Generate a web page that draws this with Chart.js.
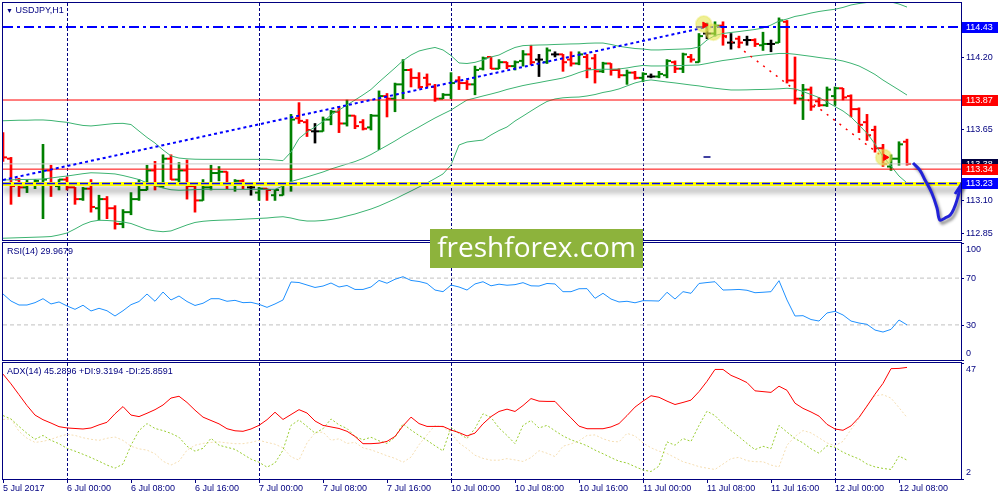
<!DOCTYPE html>
<html>
<head>
<meta charset="utf-8">
<title>USDJPY,H1</title>
<script src="https://cdn.jsdelivr.net/npm/chart.js@4.4.1/dist/chart.umd.min.js"></script>
<style>
html, body { margin: 0; padding: 0; background: #fff; }
body { position: relative; width: 1000px; height: 500px; overflow: hidden; font-family: "Liberation Sans", Arial, sans-serif; }
canvas { position: absolute; left: 0; }
.lbl { position: absolute; font-size: 9px; line-height: 11px; color: #000080; white-space: nowrap; z-index: 2; }
#wm { position: absolute; left: 430px; top: 229px; width: 213px; height: 39px; background: #8db33c; color: #fff;
      font-family: "Open Sans", sans-serif; font-size: 28px; line-height: 35px; text-align: center; z-index: 3; }
</style>
</head>
<body>
<canvas id="main" width="1000" height="241" style="top:0;width:1000px;height:241px"></canvas>
<canvas id="rsi" width="1000" height="120" style="top:241px;width:1000px;height:120px"></canvas>
<canvas id="adx" width="1000" height="139" style="top:361px;width:1000px;height:139px"></canvas>
<div class="lbl" style="left:6px;top:5px"><span style="font-size:7px">▼</span> USDJPY,H1</div>
<div class="lbl" style="left:7px;top:246px">RSI(14) 29.9679</div>
<div class="lbl" style="left:7px;top:366px">ADX(14) 45.2896 +DI:9.3194 -DI:25.8591</div>
<div id="wm">freshforex.com</div>
<script>
// bar index 0 = 5 Jul 16:00, one bar per hour (H1)
const xTickIdx = [0, 8, 16, 24, 32, 40, 48, 56, 64, 72, 80, 88, 96, 104, 112];
const xTickLabels = ['5 Jul 2017', '6 Jul 00:00', '6 Jul 08:00', '6 Jul 16:00', '7 Jul 00:00', '7 Jul 08:00',
  '7 Jul 16:00', '10 Jul 00:00', '10 Jul 08:00', '10 Jul 16:00', '11 Jul 00:00', '11 Jul 08:00',
  '11 Jul 16:00', '12 Jul 00:00', '12 Jul 08:00'];
const dayStartIdx = [8, 32, 56, 80, 104];

const open = [
  113.52,113.42,113.26,113.20,113.22,113.23,113.33,113.21,113.26,113.20,
  113.11,113.19,113.04,113.11,113.04,112.92,113.01,113.11,113.18,113.33,
  113.21,113.42,113.26,113.33,113.21,113.10,113.20,113.31,113.32,113.23,
  113.25,113.20,113.16,113.19,113.14,113.14,113.22,113.73,113.70,113.63,
  113.63,113.72,113.78,113.69,113.75,113.70,113.66,113.75,113.90,113.88,
  113.99,114.10,114.04,114.04,113.97,113.88,113.91,114.02,114.00,113.99,
  114.11,114.20,114.11,114.16,114.13,114.17,114.22,114.18,114.16,114.22,
  114.22,114.18,114.15,114.20,114.19,114.09,114.15,114.10,114.06,114.08,
  114.04,114.05,114.05,114.06,114.16,114.11,114.20,114.16,114.38,114.38,
  114.44,114.31,114.34,114.33,114.33,114.29,114.30,114.31,114.47,114.02,
  113.88,113.95,113.86,113.83,113.90,113.96,113.90,113.80,113.70,113.64,
  113.50,113.36,113.42,113.55];
const high = [
  113.62,113.43,113.27,113.26,113.26,113.53,113.37,113.26,113.28,113.20,
  113.20,113.26,113.14,113.13,113.06,113.03,113.16,113.26,113.37,113.40,
  113.45,113.45,113.39,113.41,113.21,113.26,113.37,113.36,113.32,113.26,
  113.26,113.23,113.20,113.19,113.18,113.23,113.76,113.85,113.72,113.69,
  113.74,113.79,113.82,113.87,113.75,113.72,113.76,113.94,113.92,114.00,
  114.18,114.11,114.08,114.07,113.99,113.92,114.08,114.05,114.02,114.13,
  114.20,114.20,114.18,114.16,114.17,114.25,114.29,114.22,114.27,114.24,
  114.22,114.24,114.24,114.22,114.22,114.16,114.15,114.11,114.10,114.09,
  114.08,114.07,114.09,114.18,114.17,114.23,114.22,114.38,114.46,114.47,
  114.47,114.38,114.36,114.36,114.34,114.39,114.33,114.50,114.48,114.20,
  113.99,113.97,113.89,113.97,113.97,113.96,113.91,113.81,113.76,113.67,
  113.53,113.45,113.55,113.57];
const low = [
  113.40,113.07,113.13,113.16,113.19,112.96,113.13,113.18,113.18,113.07,
  113.10,113.01,112.95,112.96,112.88,112.89,112.99,113.10,113.18,113.18,
  113.20,113.26,113.23,113.11,113.01,113.10,113.18,113.25,113.19,113.17,
  113.19,113.14,113.10,113.10,113.10,113.14,113.17,113.69,113.59,113.54,
  113.63,113.68,113.62,113.67,113.65,113.64,113.64,113.49,113.74,113.78,
  113.88,113.97,113.96,113.97,113.86,113.88,113.88,113.95,113.95,113.91,
  114.10,114.11,114.11,114.11,114.10,114.13,114.14,114.05,114.15,114.20,
  114.09,114.13,114.14,114.04,114.00,114.08,114.06,114.04,113.99,114.03,
  114.01,114.04,114.04,114.04,114.08,114.08,114.16,114.16,114.34,114.36,
  114.29,114.26,114.27,114.29,114.28,114.25,114.24,114.31,114.00,113.84,
  113.72,113.79,113.82,113.82,113.83,113.87,113.74,113.62,113.56,113.47,
  113.36,113.33,113.37,113.37];
const close = [
  113.43,113.21,113.20,113.23,113.25,113.26,113.23,113.26,113.20,113.11,
  113.19,113.05,113.11,113.04,112.92,113.01,113.11,113.18,113.33,113.21,
  113.42,113.26,113.33,113.21,113.10,113.20,113.31,113.32,113.23,113.25,
  113.23,113.20,113.19,113.18,113.18,113.22,113.72,113.71,113.64,113.63,
  113.72,113.78,113.69,113.75,113.67,113.65,113.75,113.90,113.88,113.99,
  114.10,114.04,113.97,113.99,113.88,113.91,114.00,114.00,113.99,114.10,
  114.19,114.11,114.16,114.13,114.16,114.22,114.16,114.18,114.25,114.22,
  114.16,114.15,114.22,114.11,114.09,114.15,114.10,114.06,114.08,114.04,
  114.07,114.05,114.07,114.17,114.11,114.22,114.18,114.36,114.38,114.44,
  114.36,114.31,114.31,114.33,114.30,114.30,114.30,114.48,114.02,113.88,
  113.95,113.82,113.83,113.95,113.96,113.89,113.80,113.68,113.60,113.50,
  113.38,113.42,113.53,113.38];

// Bollinger bands
const bbUpper = [
  113.711,113.713,113.715,113.715,113.717,113.717,113.713,113.705,113.699,113.686,
  113.675,113.671,113.677,113.684,113.690,113.691,113.682,113.632,113.583,113.540,
  113.487,113.441,113.425,113.419,113.416,113.415,113.415,113.415,113.415,113.415,
  113.415,113.415,113.415,113.415,113.410,113.405,113.471,113.575,113.625,113.663,
  113.705,113.755,113.793,113.832,113.870,113.909,113.951,114.008,114.062,114.116,
  114.172,114.215,114.246,114.261,114.273,114.254,114.211,114.154,114.150,114.159,
  114.177,114.200,114.215,114.246,114.273,114.287,114.290,114.292,114.293,114.296,
  114.298,114.300,114.301,114.305,114.307,114.307,114.296,114.282,114.273,114.265,
  114.261,114.254,114.254,114.257,114.259,114.261,114.264,114.277,114.330,114.365,
  114.380,114.388,114.395,114.403,114.411,114.422,114.445,114.476,114.491,114.511,
  114.522,114.537,114.549,114.558,114.566,114.580,114.599,114.610,114.618,114.623,
  114.626,114.622,114.606,114.583];
const bbMiddle = [
  113.257,113.258,113.260,113.261,113.262,113.264,113.272,113.280,113.287,113.296,
  113.305,113.312,113.310,113.307,113.303,113.291,113.276,113.260,113.235,113.212,
  113.195,113.182,113.178,113.180,113.183,113.185,113.185,113.185,113.185,113.185,
  113.185,113.185,113.185,113.185,113.185,113.211,113.245,113.262,113.280,113.299,
  113.318,113.341,113.360,113.379,113.398,113.422,113.452,113.487,113.521,113.556,
  113.594,113.629,113.663,113.698,113.732,113.763,113.793,113.832,113.870,113.885,
  113.901,113.916,113.932,113.951,113.966,113.981,113.993,114.004,114.016,114.027,
  114.039,114.058,114.081,114.100,114.104,114.106,114.106,114.108,114.116,114.127,
  114.135,114.131,114.131,114.132,114.134,114.135,114.137,114.139,114.150,114.162,
  114.173,114.181,114.190,114.200,114.208,114.215,114.221,114.227,114.227,114.221,
  114.213,114.205,114.196,114.188,114.181,114.169,114.152,114.131,114.100,114.066,
  114.023,113.985,113.947,113.908];
const bbLower = [
  112.810,112.812,112.814,112.816,112.818,112.820,112.823,112.835,112.850,112.881,
  112.915,112.938,112.948,112.946,112.942,112.935,112.923,112.900,112.877,112.866,
  112.860,112.866,112.889,112.912,112.931,112.940,112.945,112.948,112.950,112.952,
  112.956,112.959,112.962,112.965,112.971,112.975,112.965,112.950,112.942,112.942,
  112.946,112.954,112.965,112.981,112.996,113.015,113.034,113.057,113.084,113.111,
  113.142,113.172,113.203,113.234,113.268,113.303,113.372,113.525,113.548,113.556,
  113.563,113.602,113.636,113.663,113.709,113.747,113.786,113.824,113.859,113.878,
  113.887,113.891,113.893,113.901,113.912,113.928,113.939,113.955,113.978,114.001,
  114.016,114.024,114.016,114.008,114.001,113.993,113.985,113.978,113.968,113.960,
  113.953,113.947,113.947,113.948,113.950,113.951,113.953,113.956,113.960,113.955,
  113.935,113.912,113.889,113.855,113.820,113.786,113.740,113.678,113.615,113.533,
  113.435,113.364,113.287,113.234];

const rsi = [
  56.4,50.4,47.0,47.0,49.0,52.4,47.9,49.6,46.2,43.3,
  46.8,41.9,44.2,42.1,37.6,42.1,47.3,50.0,56.4,50.2,
  58.1,51.3,54.7,50.0,46.6,48.5,52.4,52.4,50.2,51.0,
  49.0,49.3,47.6,45.0,47.9,51.3,66.7,66.2,64.1,62.0,
  63.2,65.8,62.4,63.7,60.3,60.3,62.4,68.0,65.6,69.0,
  71.2,68.0,67.1,65.4,59.8,58.4,64.1,62.4,59.8,65.0,
  66.9,63.4,64.8,63.9,64.4,66.1,63.4,63.2,65.4,65.0,
  58.4,58.4,60.9,61.0,52.7,57.0,52.1,49.6,50.2,48.9,
  50.7,50.6,50.4,57.9,52.1,58.4,57.0,65.4,66.2,66.9,
  59.8,60.0,60.3,59.6,57.5,57.9,58.4,67.8,51.3,37.6,
  37.9,34.6,33.3,40.2,41.6,38.5,33.3,31.6,30.5,25.6,
  23.9,26.2,34.2,29.97];
const adx = [
  42.7,38.9,34.7,30.5,26.8,25.0,23.7,22.3,21.8,21.6,
  21.4,21.8,23.0,24.0,27.3,30.1,26.8,26.2,27.5,28.9,
  30.7,33.4,34.1,31.7,28.7,26.0,24.7,23.4,21.5,20.7,
  20.5,21.4,22.8,25.0,27.9,25.1,27.0,28.9,27.6,24.5,
  22.8,22.2,21.6,20.5,18.5,15.7,15.7,15.9,16.6,18.5,
  22.6,26.0,23.5,22.4,22.4,22.4,21.0,20.0,18.7,19.8,
  23.4,26.2,28.2,29.1,28.2,30.5,33.2,32.2,32.1,32.1,
  28.8,25.7,22.5,21.5,21.5,21.5,22.2,23.5,26.6,29.9,
  32.2,34.3,33.7,32.2,30.9,31.7,32.6,35.9,39.9,44.5,
  44.5,42.2,40.9,39.4,36.2,35.9,35.6,38.0,36.4,31.4,
  29.4,28.0,26.4,23.2,21.4,20.9,22.6,25.9,30.3,34.9,
  39.1,44.8,44.9,45.29];
const plusDi = [
  26.6,25.3,22.4,19.7,17.4,18.9,17.0,15.7,13.9,12.8,
  11.6,10.3,8.9,7.4,6.2,7.8,15.1,20.8,23.5,21.6,
  20.8,19.7,18.2,14.7,12.8,13.9,17.8,15.1,14.3,13.5,
  11.6,9.7,8.5,6.6,8.2,13.2,22.8,24.9,22.4,19.8,
  21.5,25.3,23.0,21.6,18.5,17.2,18.2,16.8,15.8,18.2,
  23.4,21.0,18.9,17.0,14.9,12.9,22.0,19.7,17.7,21.6,
  27.3,25.9,21.8,18.9,15.7,22.8,24.7,21.8,22.8,20.7,
  18.7,17.2,16.1,14.9,13.2,11.8,10.3,8.9,8.2,6.8,
  5.5,4.9,7.0,16.4,15.1,17.7,16.6,22.8,28.3,26.6,
  23.4,20.8,18.4,15.8,13.4,14.7,13.8,22.8,20.2,17.7,
  16.0,13.7,12.0,14.9,14.3,12.4,11.0,9.8,7.8,6.7,
  6.1,5.7,10.9,9.32];
const minusDi = [
  25.1,25.3,20.5,17.8,16.2,16.6,17.4,18.5,19.3,18.9,
  18.0,17.4,17.0,17.8,18.3,17.0,14.7,13.7,13.2,11.8,
  8.9,7.4,8.9,13.2,15.1,15.8,16.2,16.4,16.0,15.7,
  15.7,16.2,17.0,16.2,15.5,14.1,10.6,9.3,16.0,19.9,
  20.2,17.0,17.6,15.8,16.2,14.1,13.3,12.2,11.0,10.0,
  8.5,10.5,15.3,19.1,22.8,22.1,19.9,16.0,13.8,11.2,
  10.0,9.3,9.3,9.9,9.4,8.8,10.3,13.0,12.0,10.7,
  14.7,15.6,16.8,18.9,19.1,17.6,16.6,16.4,19.7,18.7,
  16.0,14.1,12.8,11.9,10.3,8.7,7.8,6.8,6.2,5.7,
  7.8,9.9,10.4,9.1,8.7,8.7,7.4,6.7,15.1,18.5,
  20.8,19.9,18.0,16.0,14.9,16.6,21.2,25.5,30.5,34.3,
  34.7,33.4,29.7,25.86];

const priceTicks = [114.20, 113.65, 113.10, 112.85];
const rsiTicks = [100, 70, 30, 0];
const rsiLevels = [70, 30];
const adxTicks = [47, 2];
const levelPrices = [114.43, 113.87, 113.38, 113.34, 113.23];
const levelColors = ['#0000ff', '#ff0000', '#000040', '#ff0000', '#0000ff'];
const trendBlueX = [0, 88], trendBlueY = [113.257, 114.43];
const trendRedX = [90.25, 110.9], trendRedY = [114.356, 113.39];
const circleX = [87.6, 88.8, 110.1], circleY = [114.452, 114.39, 113.43];
const tradeX = [87.7, 110.3], tradeY = [114.445, 113.43];
const dashX = [88.0], dashY = [113.433];
const sketchX = [113.75, 114.6, 115.25, 116.1, 116.75, 117.1, 117.75, 118.4, 118.9, 119.25, 119.6, 119.9];
const sketchY = [113.387, 113.333, 113.257, 113.157, 113.042, 112.950, 112.965, 112.988, 113.042, 113.103, 113.180, 113.234];
const sketchHeadX = [119.0, 119.9, 120.25], sketchHeadY = [113.149, 113.234, 113.134];

// ---- chart ----
const navy = '#000080';
const xMin = 0, xMax = 119.75;
const labelFont = '9px "Liberation Sans", Arial, sans-serif';
Chart.defaults.font.family = '"Liberation Sans", Arial, sans-serif';
Chart.defaults.font.size = 9;
Chart.defaults.color = navy;

const idx = close.map((c, i) => i);
const barColor = idx.map(i => close[i] > open[i] ? '#008000' : (close[i] < open[i] ? '#ff0000' : '#000000'));
const pts = (xs, ys) => xs.map((x, k) => ({x: x, y: ys[k]}));
const series = ys => ys.map((y, i) => ({x: i, y: y}));
const flat = y => [{x: xMin, y: y}, {x: xMax, y: y}];

const frame = {
  id: 'frame',
  afterDraw(chart) {
    const a = chart.chartArea, ctx = chart.ctx;
    ctx.save();
    ctx.strokeStyle = navy;
    ctx.lineWidth = 1;
    ctx.strokeRect(a.left - 0.5, a.top - 0.5, a.right - a.left + 1, a.bottom - a.top + 1);
    ctx.restore();
  }
};

const dayLines = {
  id: 'dayLines',
  beforeDatasetsDraw(chart) {
    const x = chart.scales.x, a = chart.chartArea, ctx = chart.ctx;
    ctx.save();
    ctx.strokeStyle = navy;
    ctx.lineWidth = 1;
    ctx.setLineDash([3, 2]);
    dayStartIdx.forEach(i => {
      const px = Math.round(x.getPixelForValue(i)) + 0.5;
      ctx.beginPath();
      ctx.moveTo(px, a.top);
      ctx.lineTo(px, a.bottom);
      ctx.stroke();
    });
    ctx.restore();
  }
};

const shadows = {
  soft: {color: 'rgba(0,0,0,0.4)', blur: 6, dx: 0, dy: 6},
  sketch: {color: 'rgba(0,0,0,0.45)', blur: 3, dx: 2, dy: 3}
};
const shadowPlugin = {
  id: 'shadowPlugin',
  beforeDatasetDraw(chart, args) {
    const s = shadows[chart.data.datasets[args.index].shadow];
    if (!s) return;
    const ctx = chart.ctx;
    ctx.save();
    ctx.shadowColor = s.color;
    ctx.shadowBlur = s.blur;
    ctx.shadowOffsetX = s.dx;
    ctx.shadowOffsetY = s.dy;
  },
  afterDatasetDraw(chart, args) {
    if (shadows[chart.data.datasets[args.index].shadow]) chart.ctx.restore();
  }
};

const levelBoxes = {
  id: 'levelBoxes',
  afterDraw(chart) {
    const y = chart.scales.y, a = chart.chartArea, ctx = chart.ctx;
    ctx.save();
    ctx.font = labelFont;
    ctx.textBaseline = 'middle';
    levelPrices.forEach((p, k) => {
      const py = Math.round(y.getPixelForValue(p));
      ctx.fillStyle = levelColors[k];
      ctx.fillRect(a.right + 1, py - 5, 36, 11);
      ctx.fillStyle = '#ffffff';
      ctx.fillText(p.toFixed(2), a.right + 5, py + 0.5);
    });
    ctx.restore();
  }
};

// right-hand axis labels: tick mark at the value, text kept inside the panel
function sideLabels(values, fmt) {
  return {
    id: 'sideLabels',
    afterDraw(chart) {
      const y = chart.scales.y, a = chart.chartArea, ctx = chart.ctx;
      ctx.save();
      ctx.fillStyle = navy;
      ctx.strokeStyle = navy;
      ctx.font = labelFont;
      ctx.textBaseline = 'middle';
      values.forEach(v => {
        const py = y.getPixelForValue(v);
        const ry = Math.round(py) + 0.5;
        ctx.beginPath();
        ctx.moveTo(a.right, ry);
        ctx.lineTo(a.right + 3, ry);
        ctx.stroke();
        const ty = Math.min(Math.max(py, a.top + 6), a.bottom - 7);
        ctx.fillText(fmt(v), a.right + 5, ty + 0.5);
      });
      ctx.restore();
    }
  };
}

const common = {
  responsive: false,
  animation: false,
  events: [],
  devicePixelRatio: 1,
  plugins: {legend: {display: false}, tooltip: {enabled: false}}
};
const hiddenX = {type: 'linear', min: xMin, max: xMax, display: false, offset: false, grid: {offset: false}};
const sideY = (min, max) => ({
  type: 'linear', position: 'right', min: min, max: max, beginAtZero: false,
  ticks: {display: false}, grid: {display: false}, border: {display: false},
  afterFit: s => { s.width = 39; }
});

const hline = (y, color, width, dash, order) => ({
  type: 'line', data: flat(y), borderColor: color, borderWidth: width, borderDash: dash,
  pointRadius: 0, order: order
});
const band = ys => ({type: 'line', data: series(ys), borderColor: '#3cb371', borderWidth: 1, pointRadius: 0, tension: 0, order: 7});

new Chart(document.getElementById('main'), {
  type: 'bar',
  data: {
    datasets: [
      {type: 'line', data: pts(sketchX, sketchY), borderColor: '#2222d8', borderWidth: 3, tension: 0.35,
       pointRadius: 0, clip: false, shadow: 'sketch', order: 0},
      {type: 'line', data: pts(sketchHeadX, sketchHeadY), borderColor: '#2222d8', borderWidth: 3,
       pointRadius: 0, clip: false, shadow: 'sketch', order: 0},
      {type: 'scatter', data: pts(tradeX, tradeY), pointStyle: 'triangle', pointRotation: 90, pointRadius: 3.5,
       pointBackgroundColor: '#ff0000', pointBorderColor: '#ff0000', order: 1},
      {type: 'scatter', data: pts(dashX, dashY), pointStyle: 'line', pointRadius: 3.5, pointBorderWidth: 1.5,
       pointBorderColor: navy, order: 1},
      {type: 'scatter', data: pts(circleX, circleY), pointRadius: 8, pointBackgroundColor: 'rgba(228,228,80,0.6)',
       pointBorderColor: 'rgba(228,228,80,0.35)', pointBorderWidth: 2, order: 2},
      hline(113.23, '#0000ff', 1.5, [8, 3], 3),
      Object.assign(hline(113.225, '#ffff00', 4, [], 4), {shadow: 'soft'}),
      {type: 'line', data: pts(trendBlueX, trendBlueY), borderColor: '#0000ff', borderWidth: 2, borderDash: [3, 3],
       pointRadius: 0, order: 5},
      {type: 'line', data: pts(trendRedX, trendRedY), borderColor: '#ff0000', borderWidth: 1.5, borderDash: [2, 6],
       pointRadius: 0, order: 5},
      hline(114.43, '#0000ff', 2, [10, 4, 3, 4], 6),
      hline(113.87, '#ff0000', 1, [], 6),
      hline(113.38, '#c8c8c8', 1, [], 6),
      hline(113.34, '#ff0000', 1, [], 6),
      band(bbUpper), band(bbMiddle), band(bbLower),
      {type: 'scatter', data: idx.map(i => ({x: i - 0.25, y: open[i]})), pointStyle: 'line', pointRadius: 2,
       pointBorderWidth: 2, pointBorderColor: barColor, pointBackgroundColor: barColor, order: 8},
      {type: 'scatter', data: idx.map(i => ({x: i + 0.25, y: close[i]})), pointStyle: 'line', pointRadius: 2,
       pointBorderWidth: 2, pointBorderColor: barColor, pointBackgroundColor: barColor, order: 8},
      {type: 'bar', data: idx.map(i => ({x: i, y: [low[i], high[i]]})), backgroundColor: barColor,
       borderWidth: 0, barThickness: 2, grouped: false, order: 9}
    ]
  },
  options: Object.assign({}, common, {
    layout: {autoPadding: false, padding: {left: 3, top: 3, right: 0, bottom: 1}},
    scales: {x: hiddenX, y: sideY(112.7965, 114.614)}
  }),
  plugins: [frame, dayLines, shadowPlugin, sideLabels(priceTicks, v => v.toFixed(2)), levelBoxes]
});

new Chart(document.getElementById('rsi'), {
  type: 'line',
  data: {
    datasets: [
      {data: series(rsi), borderColor: '#1e90ff', borderWidth: 1, pointRadius: 0, tension: 0, order: 0}
    ].concat(rsiLevels.map(v => hline(v, '#c0c0c0', 1, [4, 3], 1)))
  },
  options: Object.assign({}, common, {
    layout: {autoPadding: false, padding: {left: 3, top: 2, right: 0, bottom: 1}},
    scales: {x: hiddenX, y: sideY(0, 100)}
  }),
  plugins: [frame, dayLines, sideLabels(rsiTicks, String)]
});

new Chart(document.getElementById('adx'), {
  type: 'line',
  data: {
    datasets: [
      {data: series(adx), borderColor: '#ff0000', borderWidth: 1, pointRadius: 0, tension: 0, order: 0},
      {data: series(plusDi), borderColor: '#9acd32', borderWidth: 1, borderDash: [2, 2], pointRadius: 0, tension: 0, order: 1},
      {data: series(minusDi), borderColor: '#f5deb3', borderWidth: 1, borderDash: [2, 2], pointRadius: 0, tension: 0, order: 2}
    ]
  },
  options: Object.assign({}, common, {
    layout: {autoPadding: false, padding: {left: 3, top: 2, right: 0, bottom: 0}},
    scales: {
      x: {
        type: 'linear', min: xMin, max: xMax, offset: false,
        afterBuildTicks: s => { s.ticks = xTickIdx.map(v => ({value: v})); },
        afterFit: s => { s.height = 21; },
        ticks: {autoSkip: false, maxRotation: 0, minRotation: 0, align: 'start', padding: 0, color: navy,
                callback: (v, k) => xTickLabels[k]},
        grid: {offset: false, drawOnChartArea: false, drawTicks: true, tickLength: 4, tickColor: navy, color: navy},
        border: {display: false}
      },
      y: sideY(2, 47)
    }
  }),
  plugins: [frame, dayLines, sideLabels(adxTicks, String)]
});
</script>
</body>
</html>
